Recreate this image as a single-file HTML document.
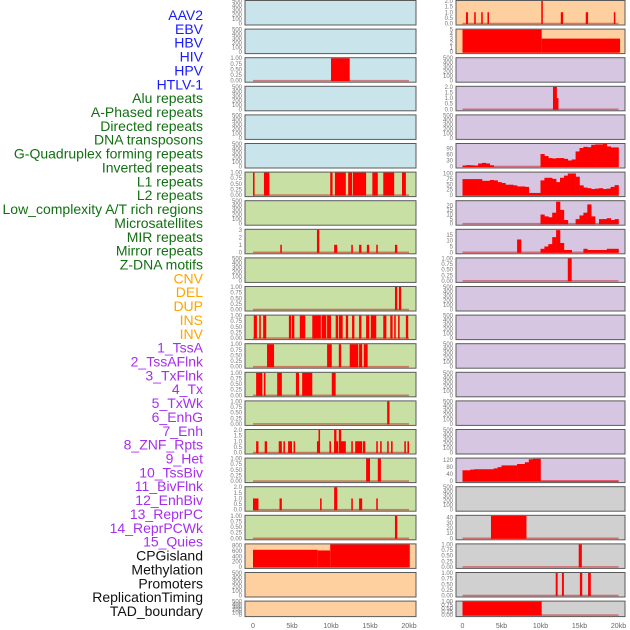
<!DOCTYPE html>
<html><head><meta charset="utf-8">
<style>
body{margin:0;background:#fff;width:630px;height:630px;overflow:hidden;font-family:"Liberation Sans",sans-serif}
svg{display:block}
</style></head>
<body>
<svg id="chart" width="630" height="630" xmlns="http://www.w3.org/2000/svg"></svg>
<script>
const trackLabels = ["AAV2","EBV","HBV","HIV","HPV","HTLV-1","Alu repeats","A-Phased repeats","Directed repeats","DNA transposons","G-Quadruplex forming repeats","Inverted repeats","L1 repeats","L2 repeats","Low_complexity A/T rich regions","Microsatellites","MIR repeats","Mirror repeats","Z-DNA motifs","CNV","DEL","DUP","INS","INV","1_TssA","2_TssAFlnk","3_TxFlnk","4_Tx","5_TxWk","6_EnhG","7_Enh","8_ZNF_Rpts","9_Het","10_TssBiv","11_BivFlnk","12_EnhBiv","13_ReprPC","14_ReprPCWk","15_Quies","CPGisland","Methylation","Promoters","ReplicationTiming","TAD_boundary"];
const labelGroups = ["v","v","v","v","v","v","r","r","r","r","r","r","r","r","r","r","r","r","r","s","s","s","s","s","c","c","c","c","c","c","c","c","c","c","c","c","c","c","c","o","o","o","o","o"];
const panelBg = ["b","b","b","b","b","b","g","g","g","g","g","g","g","g","g","g","g","g","g","p","p","p","p","p","u","u","u","u","u","u","u","u","u","u","u","u","u","u","u","k","k","k","k","k"];
const xTickLabels = ["0","5kb","10kb","15kb","20kb"];
const xTickValues = [0,5,10,15,20];
// tick sets
const tickE = [[0,"0"],[100,"100"],[200,"200"],[300,"300"],[400,"400"],[500,"500"]];
const tickU = [[0,"0.00"],[0.25,"0.25"],[0.5,"0.50"],[0.75,"0.75"],[1,"1.00"]];
const tick2 = [[0,"0.0"],[0.5,"0.5"],[1,"1.0"],[1.5,"1.5"],[2,"2.0"]];
const tick3 = [[0,"0"],[1,"1"],[2,"2"],[3,"3"]];
const tickCpg = [[0,"0"],[200,"200"],[400,"400"],[600,"600"],[800,"800"]];
const tick5 = [[0,"0"],[1,"1"],[2,"2"],[3,"3"],[4,"4"],[5,"5"]];
const tickGq = [[0,"0"],[30,"30"],[60,"60"],[90,"90"]];
const tickL1 = [[0,"0"],[25,"25"],[50,"50"],[75,"75"],[100,"100"]];
const tickLc = [[0,"0"],[5,"5"],[10,"10"],[15,"15"],[20,"20"]];
const tickMs = [[0,"0"],[5,"5"],[10,"10"],[15,"15"]];
const tickHet = [[0,"0"],[40,"40"],[80,"80"],[120,"120"]];
const tickGr = [[0,"0"],[10,"10"],[20,"20"],[30,"30"],[40,"40"]];
// per panel (0-21 col1, 22-43 col2)
const panelTicks = [tickE,tickE,tickU,tickE,tickE,tickE,tickU,tickE,tick3,tickE,tickU,tickU,tickU,tickU,tickU,tick2,tickU,tick2,tickU,tickCpg,tickE,tickE,
 tick2,tick5,tickE,tick2,tickE,tickGq,tickL1,tickLc,tickMs,tickU,tickE,tickE,tickE,tickE,tickE,tickE,tickHet,tickE,tickGr,tickU,tickU,tickU];
const panelMax = [500,500,1,500,500,500,1,500,3,500,1,1,1,1,1,2,1,2,1,848,500,500,
 2,5,500,2,500,112,104,24.5,19.3,1,500,500,500,500,500,500,129,500,43.5,1,1,1];
// interval marks [startKb, endKb, value]
const segments = {
 2:[[10.0,12.4,1]],
 6:[[0,0.2,1],[1.4,2.1,1],[9.9,10.2,1],[10.5,11.9,1],[12.2,12.7,1],[12.8,14.5,1],[15.3,16.0,1],[16.7,18.1,1],[19.1,19.6,1]],
 8:[[3.5,3.7,1],[8.2,8.5,3],[10.4,10.8,1],[12.6,12.8,1],[13.6,13.9,1],[14.6,14.9,1],[15.8,16.0,1],[18.2,18.5,1]],
 10:[[18.2,18.5,1],[18.7,19.0,1]],
 11:[[0.1,0.5,1],[0.8,1.0,1],[1.3,1.7,1],[4.6,4.9,1],[5.0,5.3,1],[6.0,6.7,1],[7.6,8.7,1],[8.8,9.4,1],[9.5,10.0,1],[10.6,10.9,1],[11.0,11.5,1],[11.9,12.2,1],[12.7,13.0,1],[13.6,13.9,1],[14.5,14.9,1],[15.1,15.8,1],[16.7,17.1,1],[17.6,17.9,1],[18.1,18.3,1],[18.6,18.8,1],[19.6,19.9,1]],
 12:[[1.8,2.7,1],[9.5,10.1,1],[11.0,11.3,1],[12.4,13.5,1],[13.6,14.0,1],[14.2,14.7,1]],
 13:[[0.4,1.2,1],[1.4,1.6,1],[3.1,3.7,1],[5.5,5.9,1],[6.3,7.6,1],[10.1,10.6,1]],
 14:[[17.2,17.5,1]],
 15:[[0.4,0.7,1],[1.5,1.8,1],[3.3,3.7,1],[3.9,4.1,1],[4.5,5.0,1],[5.2,5.4,1],[8.2,8.5,1],[8.4,8.6,2],[9.8,10.0,1],[10.4,10.9,1],[10.4,10.7,2],[11.0,11.9,1],[11.0,11.3,2],[12.6,12.8,1],[13.1,14.0,1],[14.1,14.4,1],[15.8,16.0,1],[16.3,16.5,1],[17.2,17.4,1],[17.7,17.9,1],[19.4,19.6,1],[19.8,20.0,1]],
 16:[[14.5,15.0,1],[16.0,16.4,1]],
 17:[[0,0.7,1],[3.4,3.7,1],[8.6,8.8,1],[10.4,10.8,2],[12.6,12.8,1],[13.6,14.0,1],[15.8,16.0,1]],
 18:[[18.2,18.5,1]],
 19:[[0,8.3,645],[8.3,9.9,620],[9.9,20.1,848]],
 22:[[0.45,0.7,1],[1.5,1.7,1],[2.4,2.6,1],[3.2,3.4,1],[10.1,10.3,2],[12.6,12.9,1],[15.8,16.1,1],[19.4,19.6,1]],
 23:[[0,10.15,5],[10.15,20.2,3]],
 25:[[11.6,12.1,2],[12.0,12.3,1]],
 31:[[13.5,14.0,1]],
 40:[[3.65,8.2,43.5]],
 41:[[14.9,15.3,1]],
 42:[[11.95,12.2,1],[12.75,13.0,1],[15.05,15.35,1],[16.1,16.45,1]],
 43:[[0,10.15,1]]
};
// binned profiles, 0.5kb bins from 0 to 20kb
const gquadBins = [5,7,6,5,15,18,15,6,0,0,0,0,0,0,0,0,0,0,0,0,62,52,42,40,42,42,38,30,35,75,92,98,96,108,110,110,112,100,95,95];
const l1Bins = [74,74,74,74,74,66,66,70,68,60,56,48,48,45,40,40,38,10,10,10,68,80,80,75,60,80,90,100,100,85,45,35,32,28,30,32,28,30,38,46];
const lowcBins = [0,0,0,0,0,0,0,0,0,0,0,0,0,0,0,0,0,0,0,0,10,8,7,12,24,15,4,0,0,5,9,12,21,8,0,5,5,6,4,5];
const microBins = [0,0,0,0,0,0,0,0,0,0,0,0,0,0,11,0,0,0,0,0,3,5,7,13,19,8,2,2,0,0,0,3,2,2,2,2,2,3,3,3];
const hetBins = [62,62,66,68,68,68,68,68,73,80,90,90,90,90,98,98,108,125,128,128,3,3,3,3,3,3,3,3,3,3,3,3,3,3,3,3,3,3,3,3];
const profiles = {27:gquadBins, 28:l1Bins, 29:lowcBins, 30:microBins, 38:hetBins};

const NS = "http://www.w3.org/2000/svg";
const svg = document.getElementById("chart");
const bgColors = {b:"#c9e4eb",g:"#c9e0a5",p:"#ffd09f",u:"#d6c6e2",k:"#d0d0d0"};
const labelColors = {v:"#1a1aff",r:"#127012",s:"#ffa500",c:"#a52ff0",o:"#111111"};
const colLeft = [245,456], colRight = [416,625], colX0 = [253,462.5], pxPerKb = 7.8;
const pitch = 28.6;
function mk(tag, attrs, parent){
  const e = document.createElementNS(NS, tag);
  for (const k in attrs) e.setAttribute(k, attrs[k]);
  (parent||svg).appendChild(e);
  return e;
}
function xScale(col, kb){ return colX0[col] + kb*pxPerKb; }

// left labels
trackLabels.forEach((t,i)=>{
  const e = mk("text",{x:203,y:20+i*13.86,"text-anchor":"end","font-size":"14",fill:labelColors[labelGroups[i]]});
  
  
  e.textContent = t;
});

for (let i=0;i<44;i++){
  const col = i<22?0:1, row = i%22;
  const top = row*pitch + 0.5;
  const h = row===21 ? 15.5 : 24.5;
  const g = mk("g",{});
  
  
  const bg = mk("rect",{x:colLeft[col],y:top,width:colRight[col]-colLeft[col],height:h,fill:bgColors[panelBg[i]]},g);
  
  
  const ymax = panelMax[i];
  const y0 = top + h - 1.5, yTop = top + 0.5;
  const yScale = v => y0 - (v/ymax)*(y0-yTop);
  const hasData = segments[i] || profiles[i];
  if (hasData){
    const bl = mk("rect",{x:xScale(col,0),y:y0-0.8,width:20*pxPerKb,height:1.6,fill:"rgba(200,0,0,0.45)"},g);
    
    
  }
  if (profiles[i]){
    profiles[i].forEach((v,b)=>{
      if (v<=0) return;
      const x1 = xScale(col,b*0.5), x2 = xScale(col,(b+1)*0.5);
      const r = mk("rect",{x:x1,y:yScale(v),width:x2-x1+0.3,height:y0-yScale(v)+0.5,fill:"#ff0000"},g);
      
      
    });
  }
  if (segments[i]){
    segments[i].forEach(s=>{
      const x1 = xScale(col,s[0]), x2 = xScale(col,s[1]);
      const r = mk("rect",{x:x1,y:yScale(s[2]),width:Math.max(1.5,x2-x1),height:y0-yScale(s[2])+0.5,fill:"#ff0000"},g);
      
      
    });
  }
  const border = mk("rect",{x:colLeft[col],y:top,width:colRight[col]-colLeft[col],height:h,fill:"none",stroke:"#5a5a5a","stroke-width":"1"},g);
  
  
  panelTicks[i].forEach(t=>{
    const e = mk("text",{x:colLeft[col]-3,y:yScale(t[0])+2,"text-anchor":"end","font-size":"6",fill:"#777"},g);
    
    
    e.textContent = t[1];
  });
}
// x axes
[0,1].forEach(col=>{
  xTickValues.forEach((v,j)=>{
    const e = mk("text",{x:xScale(col,v),y:628,"text-anchor":"middle","font-size":"7",fill:"#666"});
    
    
    e.textContent = xTickLabels[j];
  });
});
</script>
</body></html>
